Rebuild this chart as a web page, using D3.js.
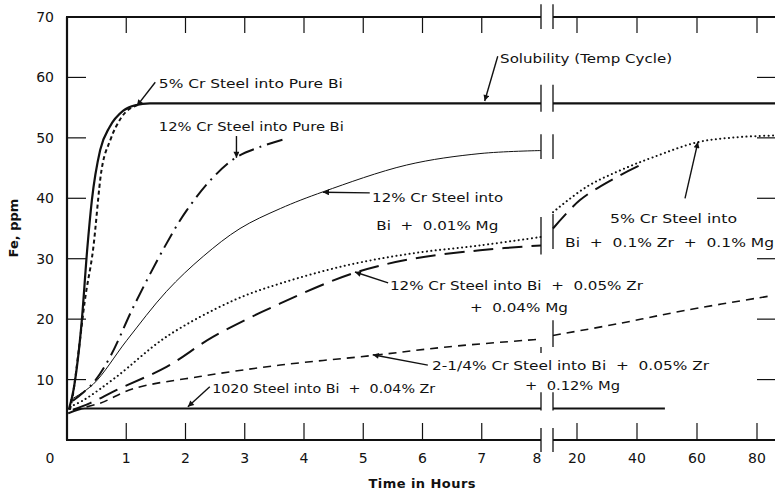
<!DOCTYPE html>
<html>
<head>
<meta charset="utf-8">
<script src="https://cdn.jsdelivr.net/npm/d3@7"></script>
<style>
  body { margin: 0; background: #fff; }
  text { font-family: "DejaVu Sans", sans-serif; fill: #111; white-space: pre; }
</style>
</head>
<body>
<svg id="chart" width="775" height="493"></svg>
<script>
// left part of the time axis is in hours 0-8, right part continues after a break
const leftTicks = [1, 2, 3, 4, 5, 6, 7];
const leftTickLabels = ["0", "1", "2", "3", "4", "5", "6", "7", "8"];
const rightTicks = [20, 40, 60, 80];
const yTicks = [0, 10, 20, 30, 40, 50, 60, 70];

// solubility (temp cycle), heavy solid
const solHours = [0.03, 0.11, 0.25, 0.34, 0.42, 0.56, 0.72, 0.95, 1.15, 1.4, 8];
const solFe = [5, 8.3, 19.8, 31.4, 39.7, 48, 51.8, 54.5, 55.4, 55.7, 55.7];
const solRightHours = [12, 86];
const solRightFe = [55.7, 55.7];

// 5% Cr steel into pure Bi, short dashes
const cr5PureHours = [0.05, 0.1, 0.2, 0.3, 0.44, 0.58, 0.73, 0.92, 1.18];
const cr5PureFe = [5, 7.5, 15, 23, 31.5, 44.5, 49.6, 53.4, 55.4];

// 12% Cr steel into pure Bi, dash-dot
const cr12PureHours = [0.1, 0.44, 0.73, 1.12, 1.65, 2.02, 2.47, 2.86, 3.26, 3.71];
const cr12PureFe = [6.5, 9.4, 13.8, 22, 32, 38, 43.5, 46.8, 48.5, 49.9];

// 12% Cr steel into Bi + 0.01% Mg, thin solid
const cr12MgHours = [0.05, 0.44, 1.01, 1.68, 2.3, 2.92, 3.6, 4.33, 5.73, 6.97, 8];
const cr12MgFe = [6.6, 9.2, 16.5, 24.6, 30.4, 35, 38.3, 41.1, 45.5, 47.4, 47.9];

// 5% Cr steel into Bi + 0.1% Zr + 0.1% Mg, dotted
const cr5ZrHours = [0.05, 0.28, 0.84, 1.68, 2.81, 3.6, 4.72, 5.84, 6.97, 8];
const cr5ZrFe = [5.5, 6.6, 10.5, 17.1, 23.1, 25.9, 28.9, 30.9, 32.2, 33.6];
const cr5ZrRightHours = [12, 23.2, 34.3, 45.4, 60.4, 73.2, 86];
const cr5ZrRightFe = [37.7, 41.9, 44.6, 46.8, 49.3, 50.1, 50.4];

// 12% Cr steel into Bi + 0.05% Zr + 0.04% Mg, long dashes
const cr12ZrHours = [0.1, 0.39, 0.84, 1.68, 2.47, 3.6, 4.83, 5.84, 6.97, 8];
const cr12ZrFe = [5, 6.1, 8.3, 12.1, 17.1, 22.6, 27.6, 30, 31.4, 32.2];
const cr12ZrRightHours = [12, 21, 32.1, 42];
const cr12ZrRightFe = [35, 39.7, 43.2, 45.7];

// 2-1/4% Cr steel into Bi + 0.05% Zr + 0.12% Mg, dashes
const cr2Hours = [0.1, 0.56, 1.12, 2.24, 3.6, 5.17, 6.41, 7.87, 8];
const cr2Fe = [5, 6.1, 8.5, 10.5, 12.4, 14, 15.4, 16.6, 16.7];
const cr2RightHours = [12, 34.3, 56.6, 84];
const cr2RightFe = [17.3, 19.3, 21.5, 23.8];

// 1020 steel into Bi + 0.04% Zr, solid
const s1020Hours = [0.02, 0.3, 8];
const s1020Fe = [4.4, 5.2, 5.2];
const s1020RightHours = [12, 49.3];
const s1020RightFe = [5.2, 5.2];

// break marks (ppm extents) at 8 h and at the start of the right part
const breakLeft = [[72.1, 68], [58.8, 54.3], [50.6, 46.5], [36.9, 30.7], [15.4, 14.4], [7.9, 4.9], [2, -2]];
const breakRight = [[72.1, 68], [58.8, 54.3], [50.6, 46.5], [37.4, 31.6], [19.8, 15.4], [7.9, 4.9], [2, -2]];

const svg = d3.select("#chart");

const x = d3.scaleLinear().domain([0, 8]).range([67, 541]);
const xr = d3.scaleLinear().domain([12, 86]).range([553, 775]);
const y = d3.scaleLinear().domain([0, 70]).range([440, 17]);

const zip = (xs, ys) => xs.map((v, i) => [v, ys[i]]);

const smooth = d3.curveCatmullRom.alpha(0.5);
const series = [
  { left: zip(solHours, solFe), right: zip(solRightHours, solRightFe), width: 2.2, dash: null, curve: d3.curveMonotoneX },
  { left: zip(cr5PureHours, cr5PureFe), right: null, width: 2, dash: "4,3", curve: d3.curveMonotoneX },
  { left: zip(cr12PureHours, cr12PureFe), right: null, width: 2, dash: "16,6,2,6", curve: smooth },
  { left: zip(cr12MgHours, cr12MgFe), right: null, width: 1, dash: null, curve: smooth },
  { left: zip(cr5ZrHours, cr5ZrFe), right: zip(cr5ZrRightHours, cr5ZrRightFe), width: 2, dash: "0.1,4.3", cap: "round", curve: smooth },
  { left: zip(cr12ZrHours, cr12ZrFe), right: zip(cr12ZrRightHours, cr12ZrRightFe), width: 2, dash: "20,9", curve: smooth },
  { left: zip(cr2Hours, cr2Fe), right: zip(cr2RightHours, cr2RightFe), width: 1.6, dash: "8,6", curve: smooth },
  { left: zip(s1020Hours, s1020Fe), right: zip(s1020RightHours, s1020RightFe), width: 2, dash: null, curve: d3.curveMonotoneX },
];

const curves = svg.append("g");
series.forEach(s => {
  const lineLeft = d3.line().x(d => x(d[0])).y(d => y(d[1])).curve(s.curve);
  const lineRight = d3.line().x(d => xr(d[0])).y(d => y(d[1])).curve(s.curve);
  [[s.left, lineLeft], [s.right, lineRight]].forEach(([pts, gen]) => {
    if (!pts) return;
    curves.append("path")
      .attr("d", gen(pts))
      .attr("fill", "none")
      .attr("stroke", "#111")
      .attr("stroke-width", s.width)
      .attr("stroke-dasharray", s.dash)
      .attr("stroke-linecap", s.cap || "butt");
  });
});

// frame and axes
const frame = svg.append("g").attr("stroke", "#111").attr("fill", "none");
frame.append("line").attr("x1", x(0)).attr("x2", x(0)).attr("y1", y(70)).attr("y2", y(0)).attr("stroke-width", 2.2);
[y(70), y(0)].forEach(yy => {
  frame.append("line").attr("x1", x(0) - 1).attr("x2", x(8)).attr("y1", yy).attr("y2", yy).attr("stroke-width", 2.2);
  frame.append("line").attr("x1", xr(12)).attr("x2", 780).attr("y1", yy).attr("y2", yy).attr("stroke-width", 2.2);
});

// break marks
breakLeft.forEach(([a, b]) => {
  frame.append("line").attr("x1", x(8)).attr("x2", x(8)).attr("y1", y(a)).attr("y2", y(b)).attr("stroke-width", 1.3);
});
breakRight.forEach(([a, b]) => {
  frame.append("line").attr("x1", xr(12)).attr("x2", xr(12)).attr("y1", y(a)).attr("y2", y(b)).attr("stroke-width", 1.3);
});

// ticks
const ticks = svg.append("g").attr("stroke", "#111").attr("stroke-width", 1.2);
yTicks.filter(v => v > 0 && v < 70).forEach(v => {
  ticks.append("line").attr("x1", x(0)).attr("x2", x(0) + 19).attr("y1", y(v)).attr("y2", y(v));
  ticks.append("line").attr("x1", 757).attr("x2", 775).attr("y1", y(v)).attr("y2", y(v));
});
leftTicks.forEach(v => {
  ticks.append("line").attr("x1", x(v)).attr("x2", x(v)).attr("y1", y(0)).attr("y2", y(0) - 17);
  ticks.append("line").attr("x1", x(v)).attr("x2", x(v)).attr("y1", y(70)).attr("y2", y(70) + 16);
});
rightTicks.forEach(v => {
  ticks.append("line").attr("x1", xr(v)).attr("x2", xr(v)).attr("y1", y(0)).attr("y2", y(0) - 17);
  ticks.append("line").attr("x1", xr(v)).attr("x2", xr(v)).attr("y1", y(70)).attr("y2", y(70) + 16);
});

// tick labels
svg.append("g").selectAll("text")
  .data(yTicks.filter(v => v > 0))
  .join("text")
  .attr("x", 54)
  .attr("y", d => y(d) + 5)
  .attr("text-anchor", "end")
  .style("font-size", "14px")
  .text(d => d);

svg.append("g").selectAll("text")
  .data(leftTickLabels)
  .join("text")
  .attr("x", (d, i) => i === 0 ? 50 : x(+d) - (i === 8 ? 4 : 0))
  .attr("y", 463)
  .attr("text-anchor", "middle")
  .style("font-size", "14px")
  .text(d => d);

svg.append("g").selectAll("text")
  .data(rightTicks)
  .join("text")
  .attr("x", d => xr(d))
  .attr("y", 463)
  .attr("text-anchor", "middle")
  .style("font-size", "14px")
  .text(d => d);

svg.append("text")
  .attr("x", 422).attr("y", 488)
  .attr("text-anchor", "middle")
  .style("font-size", "13px").style("font-weight", "bold")
  .attr("textLength", 107)
  .text("Time in Hours");

svg.append("text")
  .attr("transform", "translate(18,228) rotate(-90)")
  .attr("text-anchor", "middle")
  .style("font-size", "13px").style("font-weight", "bold")
  .text("Fe, ppm");

// annotations: text anchor (hours/ppm), width in px, and arrow from -> to
const annoTexts = [
  { seg: "L", h: 1.55, fe: 58.2, w: 184, t: "5% Cr Steel into Pure Bi" },
  { seg: "L", h: 1.55, fe: 51.1, w: 185, t: "12% Cr Steel into Pure Bi" },
  { seg: "L", h: 7.31, fe: 62.4, w: 172, t: "Solubility (Temp Cycle)" },
  { seg: "L", h: 5.15, fe: 39.4, w: 131, t: "12% Cr Steel into" },
  { seg: "L", h: 5.22, fe: 34.8, w: 122, t: "Bi  +  0.01% Mg" },
  { seg: "R", h: 31, fe: 35.9, w: 127, t: "5% Cr Steel into" },
  { seg: "R", h: 16, fe: 31.9, w: 209, t: "Bi  +  0.1% Zr  +  0.1% Mg" },
  { seg: "L", h: 5.45, fe: 24.8, w: 253, t: "12% Cr Steel into Bi  +  0.05% Zr" },
  { seg: "L", h: 6.8, fe: 21.2, w: 98, t: "+  0.04% Mg" },
  { seg: "L", h: 6.16, fe: 11.6, w: 277, t: "2-1/4% Cr Steel into Bi  +  0.05% Zr" },
  { seg: "L", h: 7.73, fe: 8.3, w: 95, t: "+  0.12% Mg" },
  { seg: "L", h: 2.45, fe: 7.8, w: 223, t: "1020 Steel into Bi  +  0.04% Zr" },
];

const annoArrows = [
  { seg: "L", from: [1.49, 59.2], to: [1.18, 55.3] },
  { seg: "L", from: [2.86, 50.3], to: [2.86, 46.7] },
  { seg: "L", from: [7.27, 63.5], to: [7.05, 56.1] },
  { seg: "L", from: [5.11, 40.9], to: [4.32, 41.0] },
  { seg: "R", from: [56, 40.0], to: [60.3, 49.3] },
  { seg: "L", from: [5.42, 26.0], to: [4.86, 27.8] },
  { seg: "L", from: [6.09, 12.4], to: [5.16, 14.1] },
  { seg: "L", from: [2.41, 8.8], to: [2.04, 5.5] },
];

svg.append("defs").append("marker")
  .attr("id", "arrow")
  .attr("viewBox", "0 -5 10 10")
  .attr("refX", 10)
  .attr("markerWidth", 9)
  .attr("markerHeight", 6)
  .attr("markerUnits", "userSpaceOnUse")
  .attr("orient", "auto")
  .append("path")
  .attr("d", "M0,-5L10,0L0,5Z")
  .attr("fill", "#111");

const sx = (seg, v) => seg === "R" ? xr(v) : x(v);

svg.append("g").selectAll("line")
  .data(annoArrows)
  .join("line")
  .attr("x1", d => sx(d.seg, d.from[0]))
  .attr("y1", d => y(d.from[1]))
  .attr("x2", d => sx(d.seg, d.to[0]))
  .attr("y2", d => y(d.to[1]))
  .attr("stroke", "#111")
  .attr("stroke-width", 1.4)
  .attr("marker-end", "url(#arrow)");

svg.append("g").selectAll("text")
  .data(annoTexts)
  .join("text")
  .attr("x", d => sx(d.seg, d.h))
  .attr("y", d => y(d.fe))
  .attr("textLength", d => d.w)
  .attr("lengthAdjust", "spacingAndGlyphs")
  .style("font-size", "13px")
  .text(d => d.t);
</script>
</body>
</html>
